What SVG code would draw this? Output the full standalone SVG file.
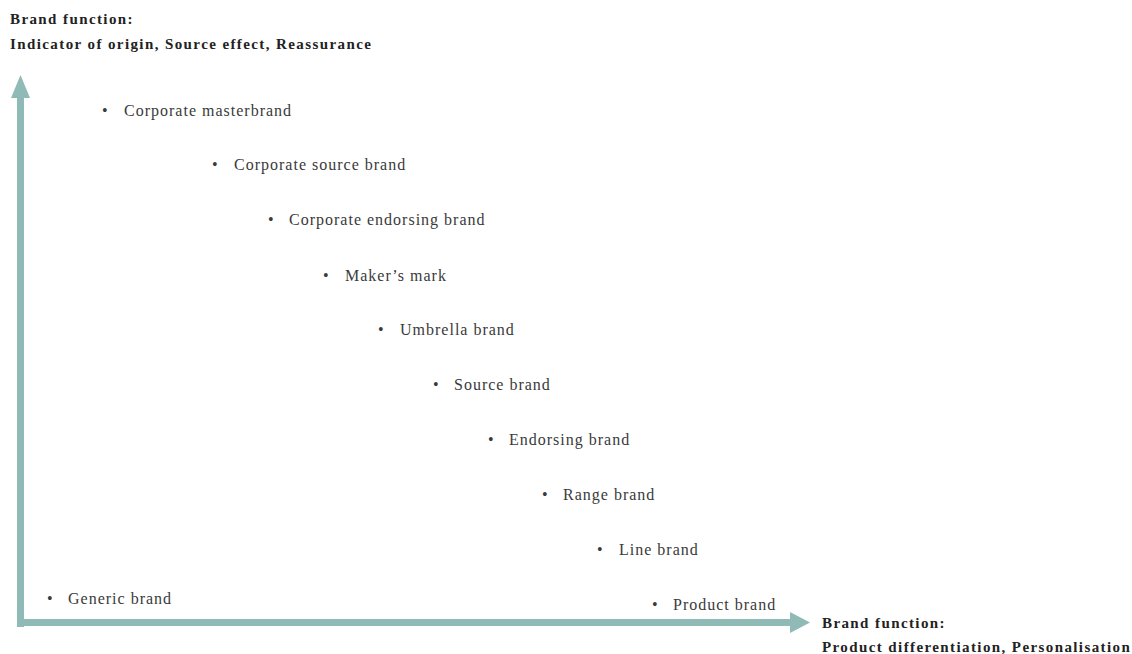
<svg xmlns="http://www.w3.org/2000/svg" width="1132" height="654" viewBox="0 0 1132 654">
<style>
.t{font-family:"Liberation Serif","Times New Roman",serif;font-size:16px;letter-spacing:1px;fill:#3a3a3a}
.b{font-family:"Liberation Serif","Times New Roman",serif;font-size:15px;font-weight:bold;letter-spacing:1.4px;fill:#222}
.ax{fill:#8fbab6}
</style>
<rect width="1132" height="654" fill="#fff"/>
<g id="connectors">
<rect class="ax" x="17" y="96" width="7" height="531"/>
<polygon class="ax" points="20.5,75 30,98 11,98"/>
<rect class="ax" x="17" y="619" width="775" height="7"/>
<polygon class="ax" points="810,622.5 790,612 790,633"/>
</g>
<g id="label-y"><text class="b" x="10" y="24">Brand function:</text><text class="b" x="10" y="49">Indicator of origin, Source effect, Reassurance</text></g>
<g id="label-x"><text class="b" x="822" y="628">Brand function:</text><text class="b" x="822" y="652">Product differentiation, Personalisation</text></g>
<g id="corporate-masterbrand"><text class="t" x="102" y="116">•</text><text class="t" x="124" y="116">Corporate masterbrand</text></g>
<g id="corporate-source-brand"><text class="t" x="212" y="170">•</text><text class="t" x="234" y="170">Corporate source brand</text></g>
<g id="corporate-endorsing-brand"><text class="t" x="268" y="225">•</text><text class="t" x="289" y="225">Corporate endorsing brand</text></g>
<g id="makers-mark"><text class="t" x="323" y="281">•</text><text class="t" x="345" y="281">Maker’s mark</text></g>
<g id="umbrella-brand"><text class="t" x="378" y="335">•</text><text class="t" x="400" y="335">Umbrella brand</text></g>
<g id="source-brand"><text class="t" x="433" y="390">•</text><text class="t" x="454" y="390">Source brand</text></g>
<g id="endorsing-brand"><text class="t" x="488" y="445">•</text><text class="t" x="509" y="445">Endorsing brand</text></g>
<g id="range-brand"><text class="t" x="542" y="500">•</text><text class="t" x="563" y="500">Range brand</text></g>
<g id="line-brand"><text class="t" x="597" y="555">•</text><text class="t" x="619" y="555">Line brand</text></g>
<g id="product-brand"><text class="t" x="652" y="610">•</text><text class="t" x="673" y="610">Product brand</text></g>
<g id="generic-brand"><text class="t" x="47" y="604">•</text><text class="t" x="68" y="604">Generic brand</text></g>
</svg>
